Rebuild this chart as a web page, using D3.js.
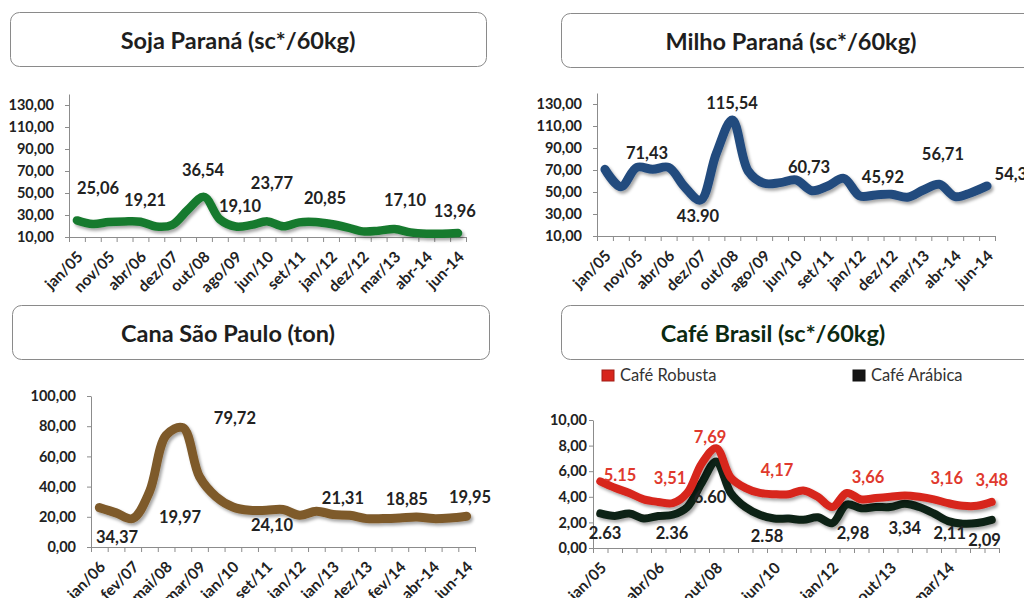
<!DOCTYPE html>
<html>
<head>
<meta charset="utf-8">
<script src="https://cdn.jsdelivr.net/npm/d3@7"></script>
<style>
  body { margin: 0; background: #fff; }
  text { font-family: Lato, "Open Sans", sans-serif; }
</style>
</head>
<body>
<div id="chart"></div>
<script>
// ---- data ----
var sojaTicks = ["jan/05","nov/05","abr/06","dez/07","out/08","ago/09","jun/10","set/11","jan/12","dez/12","mar/13","abr-14","jun-14"];
var sojaValues = [25.1,21.8,23.6,24.2,23.9,19.5,21,35,46.5,26,19.5,21,24.2,19.7,23.3,23.6,21.8,18.8,15.1,15.7,17.3,14.2,13,13,13.6];
var sojaNotes = ["25,06","19,21","36,54","19,10","23,77","20,85","17,10","13,96"];
var sojaNoteAt = [1.33,4.29,7.94,10.27,12.28,15.62,20.66,23.8];
var sojaNoteLevel = [54.5,43.6,70.9,38.2,59.1,45.5,43.6,33.6];

var milhoTicks = sojaTicks;
var milhoValues = [70.6,54.8,72.4,70.6,72.4,54.8,42.7,85.2,115.5,69,57.9,58.5,61,51.2,55.5,62.4,46.5,47.3,48,45.2,51.8,57,45.8,49.4,55.5];
var milhoNotes = ["71,43","43.90","115,54","60,73","45,92","56,71","54,36"];
var milhoNoteAt = [2.64,5.84,7.98,12.82,17.46,21.23,25.8];
var milhoNoteLevel = [85.5,28.2,130.9,72.7,63.6,84.5,66.4];

var canaTicks = ["jan/06","fev/07","mai/08","mar/09","jan/10","set/11","jan/12","jan/13","dez/13","fev/14","abr-14","jun-14"];
var canaValues = [26.1,22.6,18.8,36.5,74,79,46.5,33.2,26.5,24.3,24.3,24.8,21,23.7,21.5,21,18.8,18.8,19.2,19.9,18.8,19.2,20.4];
var canaNotes = ["34,37","19,97","79,72","24,10","21,31","18,85","19,95"];
var canaNoteAt = [1.06,4.83,8.12,10.34,14.59,18.42,22.2];
var canaNoteLevel = [6.6,19.9,85.4,14.6,32.5,31.8,33.1];

var cafeTicks = ["jan/05","abr/06","out/08","jun/10","jan/12","out/13","mar/14"];
var cafeSeries = ["Café Robusta","Café Arábica"];
var robustaValues = [5.2,4.7,4.3,3.8,3.6,3.5,4.3,6.6,7.8,5.5,4.7,4.3,4.2,4.2,4.5,4.0,3.2,4.3,3.8,3.9,4.0,4.1,4.0,3.8,3.5,3.3,3.3,3.6];
var arabicaValues = [2.7,2.5,2.7,2.3,2.5,2.6,3.2,5.1,6.75,4.3,3.2,2.6,2.3,2.3,2.2,2.4,1.95,3.4,3.1,3.2,3.2,3.45,3.2,2.7,2.1,1.9,1.95,2.2];
var robustaNotes = ["5.15","3,51","7,69","4,17","3,66","3,16","3,48"];
var robustaNoteAt = [1.36,4.81,7.57,12.19,18.47,23.9,27.0];
var robustaNoteLevel = [5.7,5.47,8.67,6.09,5.55,5.47,5.31];
var arabicaNotes = ["2.63","2.36","6.60","2.58","2,98","3,34","2,11","2,09"];
var arabicaNoteAt = [0.33,4.95,7.57,11.5,17.43,21.0,24.1,26.5];
var arabicaNoteLevel = [1.17,1.17,3.98,0.94,1.17,1.56,1.17,0.63];

var titles = ["Soja Paraná (sc*/60kg)","Milho Paraná (sc*/60kg)","Cana São Paulo (ton)","Café Brasil (sc*/60kg)"];

var svg = d3.select("#chart").append("svg")
    .attr("width", 1024)
    .attr("height", 598)
    .style("display", "block");

svg.append("rect").attr("width", 1024).attr("height", 598).attr("fill", "#fff");

var defs = svg.append("defs");
defs.append("filter")
    .attr("id", "shadow")
    .attr("x", "-10%").attr("y", "-20%").attr("width", "130%").attr("height", "160%")
    .append("feDropShadow")
    .attr("dx", 2).attr("dy", 2.5)
    .attr("stdDeviation", 1.6)
    .attr("flood-color", "#000")
    .attr("flood-opacity", 0.35);

var fmt = function(d) { return d3.format(".2f")(d).replace(".", ","); };

// title boxes
function titleBox(x, y, w, cx, label, color) {
    svg.append("rect")
        .attr("x", x + 0.5).attr("y", y + 0.5)
        .attr("width", w).attr("height", 54)
        .attr("rx", 9)
        .attr("fill", "#fff")
        .attr("stroke", "#8a8a8a")
        .attr("stroke-width", 1);
    svg.append("text")
        .attr("x", cx).attr("y", y + 29)
        .attr("dy", "0.35em")
        .attr("text-anchor", "middle")
        .style("font-size", "23.5px")
        .style("font-weight", "bold")
        .attr("fill", color)
        .text(label);
}
titleBox(10, 12, 476, 238, titles[0], "#1e1e1e");
titleBox(561, 13, 480, 791, titles[1], "#1e1e1e");
titleBox(12, 305, 477, 228, titles[2], "#1e1e1e");
titleBox(561, 305, 480, 773, titles[3], "#0b2a12");

function drawChart(c) {
    var g = svg.append("g");
    var x = d3.scaleLinear().domain([-0.5, c.n - 0.5]).range([c.left, c.right]);
    var y = d3.scaleLinear().domain(c.domain).range([c.bottom, c.top]);

    var yAxis = g.append("g")
        .attr("transform", "translate(" + c.left + ",0)")
        .call(d3.axisLeft(y).tickValues(c.yTicks).tickFormat(fmt)
              .tickSize(4).tickSizeOuter(0).tickPadding(c.pad));
    var xAxis = g.append("g")
        .attr("transform", "translate(0," + c.bottom + ")")
        .call(d3.axisBottom(x).tickValues(d3.range(c.n + 1).map(function(k) { return k - 0.5; }))
              .tickFormat("").tickSize(5).tickSizeOuter(0));
    g.selectAll(".domain, .tick line").attr("stroke", "#8c8c8c");
    yAxis.selectAll("text")
        .attr("fill", "#222")
        .style("font-size", "14.5px")
        .style("font-weight", "bold");

    // category labels, rotated
    g.selectAll(".xlab")
        .data(c.ticks)
        .enter()
        .append("text")
        .attr("class", "xlab")
        .attr("transform", function(d, k) {
            return "translate(" + (x(k * c.every) + 7) + "," + (c.bottom + 21) + ")rotate(-45)";
        })
        .attr("text-anchor", "end")
        .attr("fill", "#222")
        .style("font-size", "15.5px")
        .style("font-weight", "bold")
        .text(function(d) { return d; });

    var line = d3.line()
        .x(function(d, i) { return x(i); })
        .y(function(d) { return y(d); })
        .curve(d3.curveCatmullRom.alpha(0.5));

    c.series.forEach(function(s) {
        g.append("path")
            .datum(s.values)
            .attr("d", line)
            .attr("fill", "none")
            .attr("stroke", s.color)
            .attr("stroke-width", s.width)
            .attr("stroke-linecap", "round")
            .attr("stroke-linejoin", "round")
            .attr("filter", "url(#shadow)");
    });

    c.notes.forEach(function(nt) {
        g.selectAll(null)
            .data(nt.text)
            .enter()
            .append("text")
            .attr("x", function(d, k) { return x(nt.at[k]); })
            .attr("y", function(d, k) { return y(nt.level[k]); })
            .attr("dy", "0.35em")
            .attr("text-anchor", "middle")
            .attr("fill", nt.color)
            .style("font-size", "16.5px")
            .style("font-weight", "bold")
            .text(function(d) { return d; });
    });
}

drawChart({
    n: sojaValues.length, left: 69, right: 466, top: 94, bottom: 237,
    domain: [10, 140], yTicks: d3.range(10, 131, 20), pad: 11,
    ticks: sojaTicks, every: 2,
    series: [{ values: sojaValues, color: "#197a2f", width: 8.5 }],
    notes: [{ text: sojaNotes, at: sojaNoteAt, level: sojaNoteLevel, color: "#222" }]
});

drawChart({
    n: milhoValues.length, left: 597, right: 995, top: 93, bottom: 236,
    domain: [10, 140], yTicks: d3.range(10, 131, 20), pad: 11,
    ticks: milhoTicks, every: 2,
    series: [{ values: milhoValues, color: "#234b7e", width: 9 }],
    notes: [{ text: milhoNotes, at: milhoNoteAt, level: milhoNoteLevel, color: "#222" }]
});

drawChart({
    n: canaValues.length, left: 91, right: 475, top: 396, bottom: 547,
    domain: [0, 100], yTicks: d3.range(0, 101, 20), pad: 11,
    ticks: canaTicks, every: 2,
    series: [{ values: canaValues, color: "#7e5a2b", width: 9 }],
    notes: [{ text: canaNotes, at: canaNoteAt, level: canaNoteLevel, color: "#222" }]
});

drawChart({
    n: robustaValues.length, left: 593, right: 999, top: 420, bottom: 548,
    domain: [0, 10], yTicks: d3.range(0, 11, 2), pad: 2,
    ticks: cafeTicks, every: 4,
    series: [{ values: arabicaValues, color: "#0f2114", width: 8 },
             { values: robustaValues, color: "#d7251c", width: 8 }],
    notes: [{ text: robustaNotes, at: robustaNoteAt, level: robustaNoteLevel, color: "#e0392d" },
            { text: arabicaNotes, at: arabicaNoteAt, level: arabicaNoteLevel, color: "#222" }]
});

// legend for café
var legendColors = ["#d7251c", "#151515"];
var legendX = [602, 853];
var legend = svg.selectAll(".leg")
    .data(cafeSeries)
    .enter()
    .append("g")
    .attr("class", "leg")
    .attr("transform", function(d, i) { return "translate(" + legendX[i] + ",370)"; });
legend.append("rect")
    .attr("width", 12).attr("height", 11)
    .attr("fill", function(d, i) { return legendColors[i]; })
    .attr("stroke", function(d, i) { return d3.color(legendColors[i]).darker(0.8); })
    .attr("stroke-width", 1);
legend.append("text")
    .attr("x", 18).attr("y", 11)
    .attr("fill", "#333")
    .style("font-size", "16.5px")
    .text(function(d) { return d; });
</script>
</body>
</html>
